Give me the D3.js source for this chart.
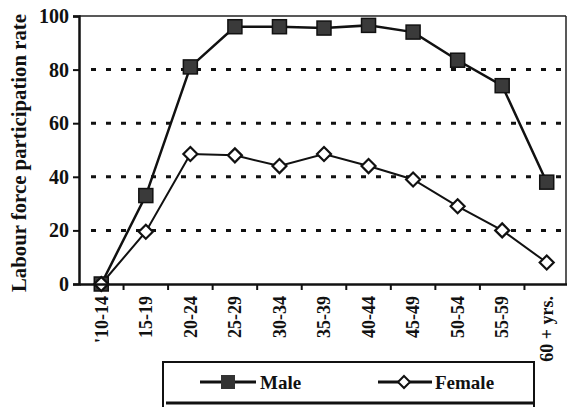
<!DOCTYPE html>
<html lang="en">
<head>
  <meta charset="UTF-8">
  <title>Labour force participation</title>
  <style>
    body { margin: 0; background: #fff; }
    text { font-family: "Liberation Serif", "Times New Roman", serif; font-weight: bold; fill: #111; }
  </style>
</head>
<body>
  <svg id="svg" width="567" height="407"></svg>
  <script src="https://d3js.org/d3.v7.min.js"></script>
  <script>
    const ageGroups = ["'10-14", '15-19', '20-24', '25-29', '30-34', '35-39', '40-44', '45-49', '50-54', '55-59', '60 + yrs.']
    const male = [0, 33, 81, 96, 96, 95.5, 96.5, 94, 83.5, 74, 38]
    const female = [0, 19.5, 48.5, 48, 44, 48.5, 44, 39, 29, 20, 8]
    const yTicks = [0, 20, 40, 60, 80, 100]

    const svg = d3.select('#svg')
    const plotLeft = 79, plotRight = 569, plotTop = 16, plotBottom = 284

    const xScale = d3.scaleBand()
      .domain(ageGroups)
      .range([plotLeft, plotRight])

    const yScale = d3.scaleLinear()
      .domain([0, 100])
      .range([plotBottom, plotTop])

    // dotted gridlines
    svg.append('g')
      .selectAll('line')
      .data(yTicks.filter(d => d > 0 && d < 100))
      .enter()
      .append('line')
      .attr('x1', plotLeft + 12)
      .attr('x2', 566)
      .attr('y1', d => yScale(d))
      .attr('y2', d => yScale(d))
      .attr('stroke', '#111')
      .attr('stroke-width', 3)
      .attr('stroke-dasharray', '5 10')

    // frame top and right
    svg.append('line')
      .attr('x1', plotLeft).attr('x2', 566)
      .attr('y1', plotTop).attr('y2', plotTop)
      .attr('stroke', '#222').attr('stroke-width', 1.5)
    svg.append('line')
      .attr('x1', 566).attr('x2', 566)
      .attr('y1', plotTop).attr('y2', plotBottom)
      .attr('stroke', '#222').attr('stroke-width', 1.5)

    // y axis
    const yAxis = svg.append('g')
      .attr('transform', `translate(${plotLeft},0)`)
      .call(d3.axisLeft(yScale).tickValues(yTicks).tickSize(6).tickPadding(4))
    yAxis.select('.domain').attr('stroke', '#111').attr('stroke-width', 2.5)
    yAxis.selectAll('.tick line').attr('stroke', '#111').attr('stroke-width', 2)
    yAxis.selectAll('.tick text')
      .style('font-size', '20px')
      .style('font-family', '"Liberation Serif", serif')
      .style('font-weight', 'bold')
      .attr('fill', '#111')

    // x axis
    const xAxis = svg.append('g')
      .attr('transform', `translate(0,${plotBottom})`)
      .call(d3.axisBottom(xScale).tickSize(0).tickPadding(0))
    xAxis.select('.domain').attr('stroke', '#111').attr('stroke-width', 2.5)
    xAxis.selectAll('.tick text')
      .attr('transform', 'rotate(-90)')
      .attr('x', -12)
      .attr('y', 0)
      .attr('dy', '0.35em')
      .style('text-anchor', 'end')
      .style('font-size', '18px')
      .style('font-family', '"Liberation Serif", serif')
      .style('font-weight', 'bold')
      .attr('fill', '#111')

    // tick marks between categories
    svg.append('g')
      .selectAll('line')
      .data(ageGroups.slice(1))
      .enter()
      .append('line')
      .attr('x1', d => xScale(d))
      .attr('x2', d => xScale(d))
      .attr('y1', plotBottom)
      .attr('y2', plotBottom + 6)
      .attr('stroke', '#111')
      .attr('stroke-width', 2)

    const cx = d => xScale(d) + xScale.bandwidth() / 2
    const line = d3.line()
      .x((d, i) => cx(ageGroups[i]))
      .y(d => yScale(d))

    svg.append('path')
      .datum(male)
      .attr('d', line)
      .attr('fill', 'none')
      .attr('stroke', '#111')
      .attr('stroke-width', 2.5)

    svg.append('path')
      .datum(female)
      .attr('d', line)
      .attr('fill', 'none')
      .attr('stroke', '#111')
      .attr('stroke-width', 2)

    svg.append('g')
      .selectAll('rect')
      .data(male)
      .enter()
      .append('rect')
      .attr('x', (d, i) => cx(ageGroups[i]) - 7)
      .attr('y', d => yScale(d) - 7)
      .attr('width', 14)
      .attr('height', 14)
      .attr('fill', '#3a3a3a')
      .attr('stroke', '#111')
      .attr('stroke-width', 1.5)

    svg.append('g')
      .selectAll('path')
      .data(female)
      .enter()
      .append('path')
      .attr('d', (d, i) => {
        const x = cx(ageGroups[i]), y = yScale(d)
        return `M${x},${y - 7}L${x + 7},${y}L${x},${y + 7}L${x - 7},${y}Z`
      })
      .attr('fill', '#fff')
      .attr('stroke', '#111')
      .attr('stroke-width', 2.2)

    // y axis title
    svg.append('text')
      .attr('transform', `translate(26,${153}) rotate(-90)`)
      .attr('text-anchor', 'middle')
      .attr('textLength', 278)
      .attr('lengthAdjust', 'spacingAndGlyphs')
      .style('font-size', '20px')
      .text('Labour force participation rate')

    // legend
    const lg = svg.append('g')
    lg.append('rect')
      .attr('x', 163).attr('y', 362)
      .attr('width', 371).attr('height', 50)
      .attr('fill', '#fff')
      .attr('stroke', '#111')
      .attr('stroke-width', 2)
    lg.append('line')
      .attr('x1', 166).attr('x2', 534)
      .attr('y1', 403).attr('y2', 403)
      .attr('stroke', '#111').attr('stroke-width', 3)
    lg.append('line')
      .attr('x1', 200).attr('x2', 256)
      .attr('y1', 382).attr('y2', 382)
      .attr('stroke', '#111').attr('stroke-width', 3)
    lg.append('rect')
      .attr('x', 221).attr('y', 375).attr('width', 14).attr('height', 14)
      .attr('fill', '#333')
    lg.append('text')
      .attr('x', 260).attr('y', 389)
      .style('font-size', '19px')
      .text('Male')
    lg.append('line')
      .attr('x1', 378).attr('x2', 432)
      .attr('y1', 382).attr('y2', 382)
      .attr('stroke', '#111').attr('stroke-width', 3)
    lg.append('path')
      .attr('d', 'M404,376L410,382L404,388L398,382Z')
      .attr('fill', '#fff').attr('stroke', '#111').attr('stroke-width', 2)
    lg.append('text')
      .attr('x', 435).attr('y', 389)
      .style('font-size', '19px')
      .text('Female')

    // the last tick label sits over the legend
    xAxis.raise()
  </script>
</body>
</html>
